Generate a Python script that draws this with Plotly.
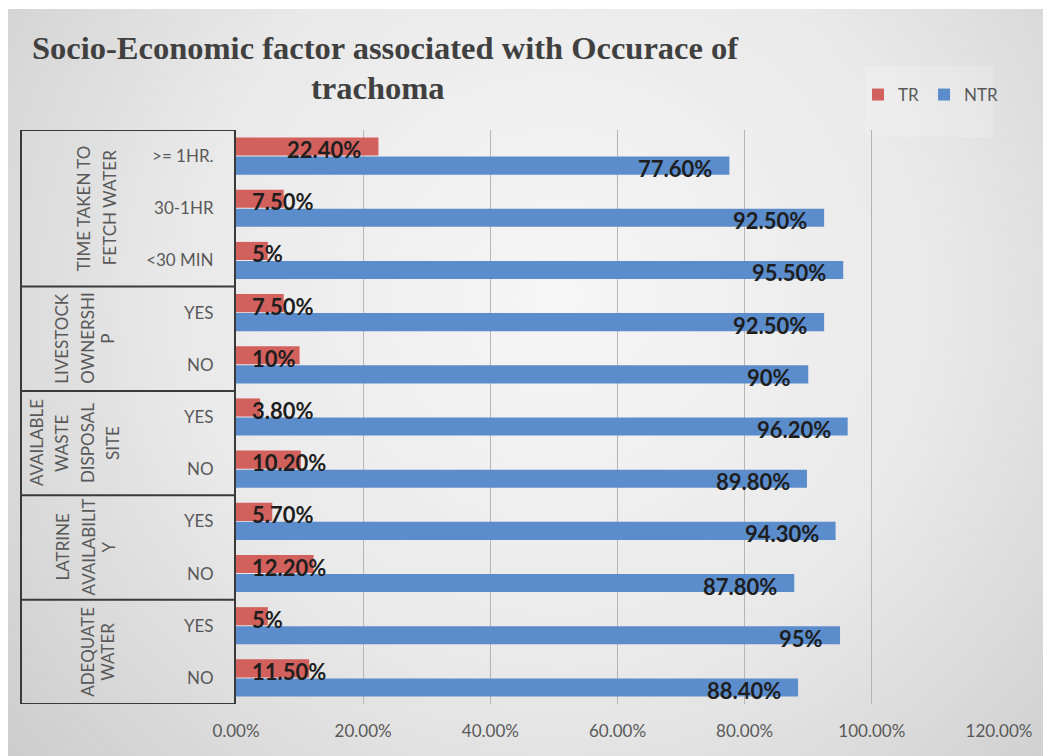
import base64
import plotly.graph_objects as go

# ---------------- data ----------------
title_lines = ["Socio-Economic factor associated with Occurace of", "trachoma"]
group_names = ["TIME TAKEN TO FETCH WATER", "LIVESTOCK OWNERSHIP",
               "AVAILABLE WASTE DISPOSAL SITE", "LATRINE AVAILABILITY", "ADEQUATE WATER"]
# group names wrapped as they appear in the picture
group_lines = [["TIME TAKEN TO", "FETCH WATER"],
               ["LIVESTOCK", "OWNERSHI", "P"],
               ["AVAILABLE", "WASTE", "DISPOSAL", "SITE"],
               ["LATRINE", "AVAILABILIT", "Y"],
               ["ADEQUATE", "WATER"]]
group_sizes = [3, 2, 2, 2, 2]
sub_labels = [">= 1HR.", "30-1HR", "<30 MIN", "YES", "NO", "YES", "NO", "YES", "NO", "YES", "NO"]
series_names = ["TR", "NTR"]
tr_values = [22.4, 7.5, 5, 7.5, 10, 3.8, 10.2, 5.7, 12.2, 5, 11.5]
ntr_values = [77.6, 92.5, 95.5, 92.5, 90, 96.2, 89.8, 94.3, 87.8, 95, 88.4]
x_ticks = [0, 0.2, 0.4, 0.6, 0.8, 1.0, 1.2]

# ---------------- style ----------------
W, H = 1051, 756
OFF = 8   # page body margin: screen px = figure px + 8
PLOT_L, PLOT_R, PLOT_T, PLOT_B = 236, 999, 130, 704   # screen px
TABLE_L = 21
RED, BLUE = "#d2605c", "#5b8dcd"
GRAY_TXT = "#595959"
LINE = "#3a3a3a"
FONT = "Lato"
# screen-x centre of each wrapped line of the group labels
group_line_x = [[83, 109], [62, 88, 108], [36, 61, 87, 112], [62, 88, 108], [88, 108]]


def px_x(p):
    return (p - OFF) / W


def px_y(p):
    return 1 - (p - OFF) / H


def fmt(v):
    return f"{v:.0f}%" if float(v).is_integer() else f"{v:.2f}%"


def esc(s):
    return s.replace("&", "&amp;").replace("<", "&lt;").replace(">", "&gt;")


rows = list(range(len(sub_labels)))
n = len(rows)

# background: white frame + soft radial grey gradient (like the Excel chart area)
svg = f"""<svg xmlns='http://www.w3.org/2000/svg' width='{W}' height='{H}' viewBox='0 0 {W} {H}'>
<defs><radialGradient id='g' gradientUnits='userSpaceOnUse' cx='550' cy='290' r='760'>
<stop offset='0' stop-color='#f6f6f6'/><stop offset='0.5' stop-color='#e9e9e9'/>
<stop offset='1' stop-color='#c9c9c9'/></radialGradient></defs>
<rect x='0' y='0' width='{W}' height='{H}' fill='#ffffff'/>
<rect x='0' y='1' width='{W}' height='{H}' fill='url(#g)'/>
<rect x='{865 - OFF}' y='{66 - OFF}' width='128' height='71' fill='#ffffff' fill-opacity='0.18'/>
</svg>"""
bg_uri = "data:image/svg+xml;base64," + base64.b64encode(svg.encode()).decode()

fig = go.Figure()
fig.add_trace(go.Bar(x=[v / 100 for v in tr_values], y=rows, orientation="h",
                     name=series_names[0], marker=dict(color=RED, line=dict(width=0))))
fig.add_trace(go.Bar(x=[v / 100 for v in ntr_values], y=rows, orientation="h",
                     name=series_names[1], marker=dict(color=BLUE, line=dict(width=0))))

annotations = []
# title
for line, cx, cy in zip(title_lines, [385, 378], [48, 88]):
    annotations.append(dict(text=f"<b>{line}</b>", xref="paper", yref="paper",
                            x=px_x(cx), y=px_y(cy), xanchor="center", yanchor="middle",
                            showarrow=False,
                            font=dict(family="Liberation Serif", size=32.5, color="#404040")))

# group labels (rotated)
start = 0
for lines, xs, size in zip(group_lines, group_line_x, group_sizes):
    centre = start + (size - 1) / 2
    for txt, lx in zip(lines, xs):
        annotations.append(dict(text=txt, xref="paper", yref="y", x=px_x(lx), y=centre,
                                textangle=-90, showarrow=False, xanchor="center",
                                yanchor="middle", font=dict(family=FONT, size=17, color=GRAY_TXT)))
    start += size

# data labels
bar_off = 9.5   # half of a bar slot in px
lab_font = dict(family=FONT, size=22, color="#1e1e1e")
for i, (a, b) in enumerate(zip(tr_values, ntr_values)):
    if a >= 15:
        annotations.append(dict(text=f"<b>{fmt(a)}</b>", x=a / 100, y=i, xref="x", yref="y",
                                xanchor="right", xshift=-15, yshift=bar_off - 3, showarrow=False,
                                font=lab_font))
    else:
        annotations.append(dict(text=f"<b>{fmt(a)}</b>", x=0, y=i, xref="x", yref="y",
                                xanchor="left", xshift=14, yshift=bar_off - 3, showarrow=False,
                                font=lab_font))
    annotations.append(dict(text=f"<b>{fmt(b)}</b>", x=b / 100, y=i, xref="x", yref="y",
                            xanchor="right", xshift=-15, yshift=-bar_off - 3, showarrow=False,
                            font=lab_font))

# table lines
shapes = []
bounds = [-0.5]
for s in group_sizes:
    bounds.append(bounds[-1] + s)
for yb in bounds:
    shapes.append(dict(type="line", xref="paper", yref="y", x0=px_x(TABLE_L), x1=px_x(PLOT_L),
                       y0=yb, y1=yb, line=dict(color=LINE, width=2)))
shapes.append(dict(type="line", xref="paper", yref="y", x0=px_x(TABLE_L), x1=px_x(TABLE_L),
                   y0=bounds[0], y1=bounds[-1], line=dict(color=LINE, width=2)))

fig.update_layout(
    width=W, height=H,
    margin=dict(l=0, r=0, t=0, b=0, autoexpand=False),
    paper_bgcolor="#ffffff", plot_bgcolor="rgba(0,0,0,0)",
    barmode="group", bargap=0.27, bargroupgap=0.05,
    showlegend=True,
    legend=dict(orientation="h", x=px_x(858), y=px_y(95), xanchor="left", yanchor="middle",
                font=dict(family=FONT, size=17, color=GRAY_TXT), bgcolor="rgba(0,0,0,0)",
                itemwidth=30),
    xaxis=dict(domain=[px_x(PLOT_L), px_x(PLOT_R)], range=[0, 1.2], tickvals=x_ticks,
               tickformat=".2%", showgrid=True, gridcolor="#b5b5b5", gridwidth=1,
               zeroline=False, showline=False, ticks="outside", ticklen=12, automargin=False,
               tickcolor="rgba(0,0,0,0)", tickfont=dict(family=FONT, size=17, color=GRAY_TXT)),
    yaxis=dict(domain=[px_y(PLOT_B), px_y(PLOT_T)], range=[n - 0.5, -0.5],
               tickvals=rows, ticktext=[esc(s) for s in sub_labels], automargin=False,
               showgrid=False, zeroline=False, showline=True, linecolor=LINE, linewidth=2,
               ticks="outside", ticklen=17, tickcolor="rgba(0,0,0,0)",
               tickfont=dict(family=FONT, size=17, color=GRAY_TXT)),
    annotations=annotations,
    shapes=shapes,
    images=[dict(source=bg_uri, xref="paper", yref="paper", x=0, y=1, sizex=1, sizey=1,
                 xanchor="left", yanchor="top", sizing="stretch", layer="below")],
)

fig.write_html("out.html")
